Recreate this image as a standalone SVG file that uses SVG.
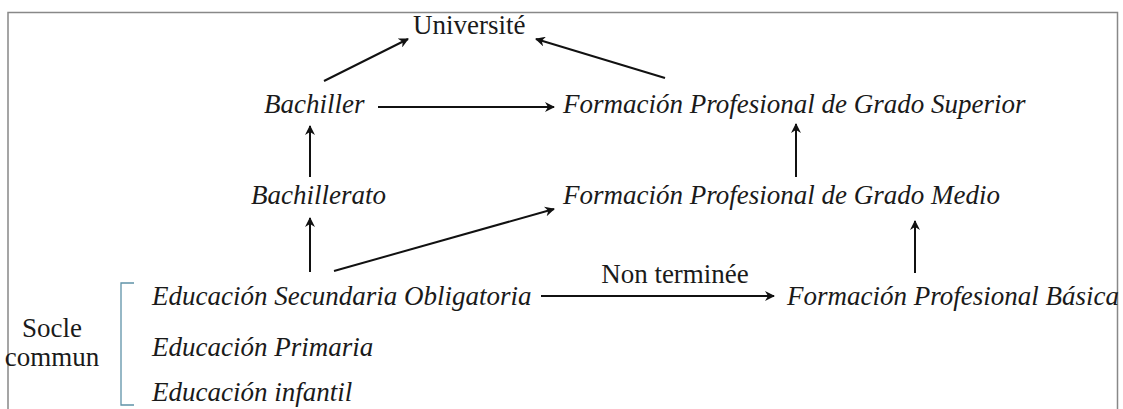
<svg xmlns="http://www.w3.org/2000/svg" width="1123" height="409" viewBox="0 0 1123 409">
<style>
text{font-family:'Liberation Serif','Times New Roman','DejaVu Serif',serif;font-size:27px;fill:#1a1a1a}
.i{font-style:italic}
.c{stroke:#111;stroke-width:2;fill:none;marker-end:url(#ah)}
</style>
<defs>
<marker id="ah" viewBox="0 0 10 10" refX="9" refY="5" markerWidth="5" markerHeight="5" orient="auto" markerUnits="strokeWidth">
<path d="M0,0 L10,5 L0,10 L3,5 Z" fill="#111"/>
</marker>
</defs>
<rect width="1123" height="409" fill="#fff"/>
<g id="frame" fill="none" stroke="#888" stroke-width="1.5">
<path d="M8,409 V12.5 H1117.5 V409"/>
</g>
<g id="bracket" fill="none" stroke="#5f93a8" stroke-width="1.3">
<path d="M134,283 H121 V405 H134"/>
</g>
<g id="universite"><text x="413" y="34" font-family="Liberation Serif">Université</text></g>
<g id="bachiller"><text class="i" x="264" y="113" font-family="Liberation Serif">Bachiller</text></g>
<g id="fp-superior"><text class="i" x="563" y="113" font-family="Liberation Serif">Formación Profesional de Grado Superior</text></g>
<g id="bachillerato"><text class="i" x="251" y="204" font-family="Liberation Serif">Bachillerato</text></g>
<g id="fp-medio"><text class="i" x="563" y="204" font-family="Liberation Serif">Formación Profesional de Grado Medio</text></g>
<g id="eso"><text class="i" x="152" y="305" font-family="Liberation Serif">Educación Secundaria Obligatoria</text></g>
<g id="fp-basica"><text class="i" x="787" y="305" font-family="Liberation Serif">Formación Profesional Básica</text></g>
<g id="primaria"><text class="i" x="152" y="356" font-family="Liberation Serif">Educación Primaria</text></g>
<g id="infantil"><text class="i" x="152" y="401" font-family="Liberation Serif">Educación infantil</text></g>
<g id="socle"><text x="52" y="337" text-anchor="middle" font-family="Liberation Serif">Socle</text><text x="52" y="366" text-anchor="middle" font-family="Liberation Serif">commun</text></g>
<g id="connectors">
<line class="c" x1="324" y1="81" x2="408" y2="39"/>
<line class="c" x1="665" y1="78" x2="536" y2="39"/>
<line class="c" x1="378" y1="107" x2="554" y2="107"/>
<line class="c" x1="310" y1="177" x2="310" y2="126"/>
<line class="c" x1="310" y1="272" x2="310" y2="218"/>
<line class="c" x1="334" y1="271" x2="554" y2="209"/>
<line class="c" x1="796" y1="177" x2="796" y2="124"/>
<line class="c" x1="541" y1="296" x2="774" y2="296"/>
<line class="c" x1="915" y1="273" x2="915" y2="221"/>
<text x="675" y="283" text-anchor="middle" font-family="Liberation Serif">Non terminée</text>
</g>
</svg>
